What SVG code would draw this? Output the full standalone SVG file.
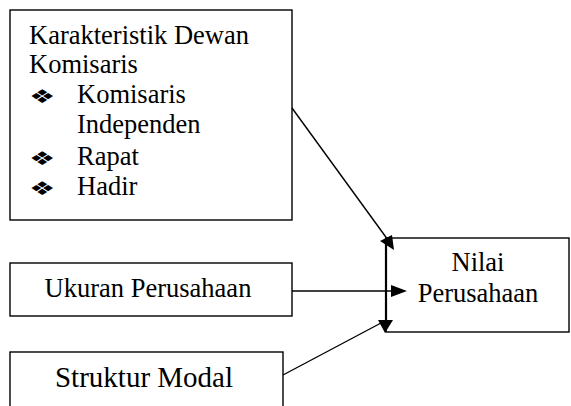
<svg xmlns="http://www.w3.org/2000/svg" width="571" height="406" viewBox="0 0 571 406">
<style>
.box{fill:#fff;stroke:#000;stroke-width:1.4}
.t{font-family:"Liberation Serif","Times New Roman",serif;font-size:26.5px;fill:#000}
.b{font-family:"DejaVu Sans",sans-serif;font-size:19px;fill:#000}
.c{stroke:#000;stroke-width:1.4;fill:none}
.h{fill:#000;stroke:none}
</style>
<rect width="571" height="406" fill="#fff"/>
<g id="karakteristik">
<rect class="box" x="10" y="10" width="282" height="210"/>
<text class="t" x="29" y="44">Karakteristik Dewan</text>
<text class="t" x="29" y="73">Komisaris</text>
<text class="t" x="77" y="103">Komisaris</text>
<text class="t" x="77" y="133">Independen</text>
<text class="t" x="77" y="165">Rapat</text>
<text class="t" x="77" y="195">Hadir</text>
<text class="b" transform="translate(29,102.5) scale(1.55,1)">❖</text>
<text class="b" transform="translate(29,164.5) scale(1.55,1)">❖</text>
<text class="b" transform="translate(29,194.5) scale(1.55,1)">❖</text>
</g>
<g id="ukuran">
<rect class="box" x="10" y="263" width="282" height="53"/>
<text class="t" x="148" y="297" text-anchor="middle">Ukuran Perusahaan</text>
</g>
<g id="struktur">
<rect class="box" x="10" y="352" width="273" height="60"/>
<text class="t" x="144" y="387" text-anchor="middle" style="font-size:29px">Struktur Modal</text>
</g>
<g id="nilai">
<rect class="box" x="386" y="238" width="183" height="94"/>
<text class="t" x="478" y="271" text-anchor="middle">Nilai</text>
<text class="t" x="478" y="302" text-anchor="middle">Perusahaan</text>
</g>
<g id="connectors">
<line class="c" x1="292" y1="108" x2="388" y2="240"/>
<polygon class="h" points="394,250 380,241 392,235"/>
<line class="c" x1="292" y1="291" x2="392" y2="291"/>
<polygon class="h" points="407,291 391,285 391,297"/>
<line class="c" x1="283" y1="375" x2="381" y2="323"/>
<line x1="386" y1="238" x2="386" y2="322" stroke="#000" stroke-width="2.2"/>
<polygon class="h" points="385,333 378,320 393,320"/>
</g>
</svg>
